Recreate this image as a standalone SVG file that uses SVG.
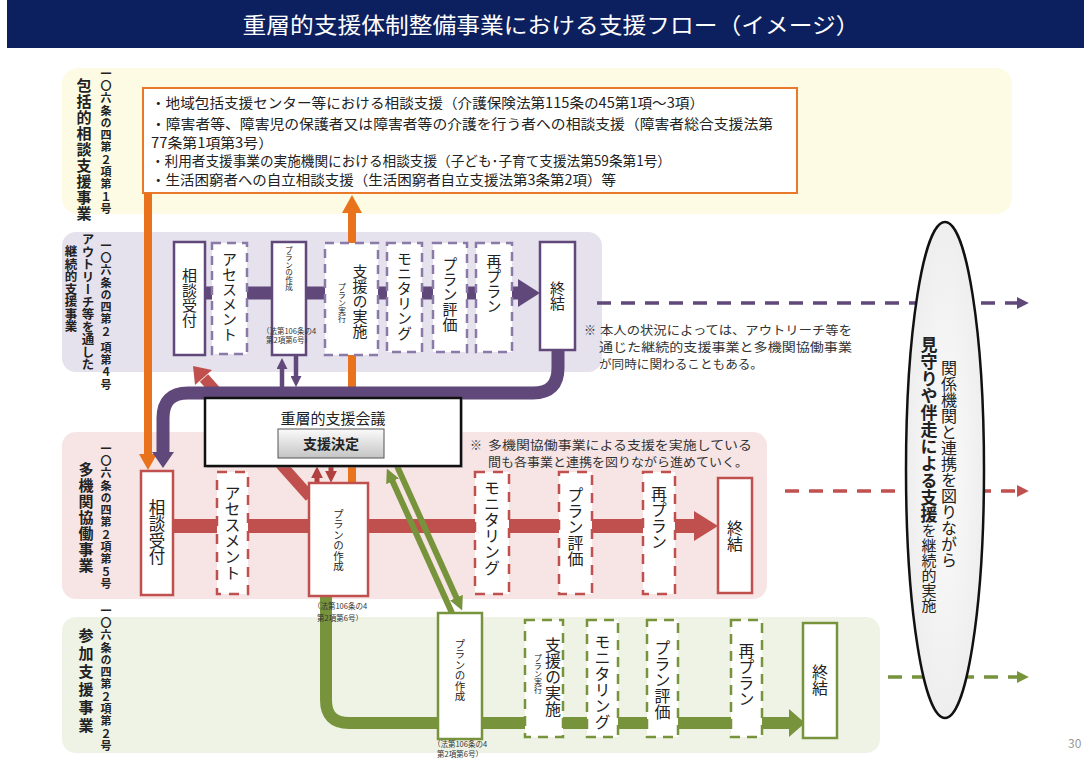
<svg xmlns="http://www.w3.org/2000/svg" width="1084" height="760" viewBox="0 0 1084 760">
<defs>
<style>
text{font-family:"Noto Sans CJK JP","Noto Sans CJK SC",sans-serif;fill:#222}
.v{writing-mode:vertical-rl;text-anchor:middle}
.vs{writing-mode:vertical-rl;text-anchor:start}
.b{font-weight:bold}
.pb{fill:#fff;stroke:#60497a;stroke-width:2.5}
.pd{fill:#fff;stroke:#8a7aa8;stroke-width:2.5;stroke-dasharray:9 6}
.rb{fill:#fff;stroke:#c0504d;stroke-width:2.5}
.rd{fill:#fff;stroke:#c0504d;stroke-width:2.5;stroke-dasharray:10 8}
.gb{fill:#fff;stroke:#77933c;stroke-width:2.5}
.gd{fill:#fff;stroke:#77933c;stroke-width:2.5;stroke-dasharray:10 7}
.sub{font-size:11px;font-weight:bold;letter-spacing:1.3px}
.main{font-size:15px;font-weight:bold;letter-spacing:1px}
.note{font-size:12px;fill:#333}
.law{font-size:7.5px;text-anchor:middle;fill:#333}
</style>
<marker id="mp" viewBox="0 0 10 10" refX="1" refY="5" markerWidth="11" markerHeight="11" markerUnits="userSpaceOnUse" orient="auto"><path d="M0,0 L10,5 L0,10 z" fill="#60497a"/></marker>
<marker id="mr" viewBox="0 0 10 10" refX="1" refY="5" markerWidth="12" markerHeight="12" markerUnits="userSpaceOnUse" orient="auto"><path d="M0,0 L10,5 L0,10 z" fill="#b0413e"/></marker>
<marker id="mg" viewBox="0 0 10 10" refX="1" refY="5" markerWidth="14" markerHeight="14" markerUnits="userSpaceOnUse" orient="auto"><path d="M0,0 L10,5 L0,10 z" fill="#77933c"/></marker>
<marker id="mpd" viewBox="0 0 10 10" refX="1" refY="5" markerWidth="12" markerHeight="12" markerUnits="userSpaceOnUse" orient="auto"><path d="M0,0 L10,5 L0,10 z" fill="#60497a"/></marker>
<marker id="mrd" viewBox="0 0 10 10" refX="1" refY="5" markerWidth="12" markerHeight="12" markerUnits="userSpaceOnUse" orient="auto"><path d="M0,0 L10,5 L0,10 z" fill="#c0504d"/></marker>
<marker id="mgd" viewBox="0 0 10 10" refX="1" refY="5" markerWidth="12" markerHeight="12" markerUnits="userSpaceOnUse" orient="auto"><path d="M0,0 L10,5 L0,10 z" fill="#77933c"/></marker>
<linearGradient id="btn" x1="0" y1="0" x2="0" y2="1"><stop offset="0" stop-color="#fbfbfb"/><stop offset="1" stop-color="#c4c4c4"/></linearGradient>
<radialGradient id="ell" cx="0.5" cy="0.5" r="0.5"><stop offset="0" stop-color="#fbfbfb"/><stop offset="1" stop-color="#eeeeee"/></radialGradient>
</defs>

<rect width="1084" height="760" fill="#fff"/>

<!-- title -->
<g id="title">
<rect x="7" y="0" width="1077" height="48" fill="#0c1f5e"/>
<text x="551" y="33" text-anchor="middle" font-size="22" textLength="617" lengthAdjust="spacingAndGlyphs" style="fill:#fff">重層的支援体制整備事業における支援フロー（イメージ）</text>
</g>

<!-- bands -->
<g id="bands">
<rect x="62" y="68" width="950" height="146" rx="16" fill="#fdfbe3"/>
<rect x="62" y="232" width="540" height="140" rx="14" fill="#e5e1ed"/>
<rect x="62" y="432" width="705" height="167" rx="14" fill="#f7e5e5"/>
<rect x="62" y="617" width="818" height="136" rx="14" fill="#eff3e6"/>
</g>

<!-- left labels -->
<g id="labels">
<text class="vs main" x="84" y="78">包括的相談支援事業</text>
<text class="vs sub" x="106" y="68">一〇六条の四第２項第１号</text>
<text class="vs b" x="88" y="233" font-size="12.5">アウトリーチ等を通した</text>
<text class="vs b" x="71" y="245" font-size="12.5">継続的支援事業</text>
<text class="vs sub" x="106" y="240">一〇六条の四第２ 項第４号</text>
<text class="vs main" x="86" y="462">多機関協働事業</text>
<text class="vs sub" x="106" y="443">一〇六条の四第２項第５号</text>
<text class="vs main" x="86" y="628" style="letter-spacing:3px">参加支援事業</text>
<text class="vs sub" x="106" y="605">一〇六条の四第２項第２号</text>
</g>

<!-- top box -->
<g id="box-hokatsu">
<rect x="143" y="88" width="654" height="105" fill="#fff" stroke="#e8792a" stroke-width="2"/>
<text x="151" y="108" font-size="14" textLength="553" lengthAdjust="spacingAndGlyphs">・地域包括支援センター等における相談支援（介護保険法第115条の45第1項～3項）</text>
<text x="151" y="129" font-size="14" textLength="622" lengthAdjust="spacingAndGlyphs">・障害者等、障害児の保護者又は障害者等の介護を行う者への相談支援（障害者総合支援法第</text>
<text x="151" y="148" font-size="14" textLength="122" lengthAdjust="spacingAndGlyphs">77条第1項第3号）</text>
<text x="151" y="166" font-size="14" textLength="520" lengthAdjust="spacingAndGlyphs">・利用者支援事業の実施機関における相談支援（子ども･子育て支援法第59条第1号）</text>
<text x="151" y="185" font-size="14" textLength="465" lengthAdjust="spacingAndGlyphs">・生活困窮者への自立相談支援（生活困窮者自立支援法第3条第2項）等</text>
</g>

<!-- connectors -->
<g id="connectors" fill="none">
<!-- orange -->
<path d="M148,193 V456" stroke="#e8731c" stroke-width="8"/>
<polygon points="139,454 157,454 148,470" fill="#e8731c"/>
<path d="M352,485 V211" stroke="#e8731c" stroke-width="8"/>
<polygon points="342,213 362,213 352,195" fill="#e8731c"/>
<!-- red diagonal -->
<path d="M310,497 L204,378" stroke="#c0504d" stroke-width="11"/>
<polygon points="212,370 195,385 193,366" fill="#c0504d"/>
<!-- pink thick flow -->
<path d="M173,526 H696" stroke="#c0504d" stroke-width="14"/>
<polygon points="694,511 694,541 718,526" fill="#c0504d"/>
<!-- green flow -->
<path d="M326,596 V700 Q326,723 349,723 H791" stroke="#77933c" stroke-width="12"/>
<polygon points="789,709 789,737 805,723" fill="#77933c"/>
<!-- purple flow -->
<path d="M205,293 H522" stroke="#60497a" stroke-width="13"/>
<polygon points="518,279 518,307 540,293" fill="#60497a"/>
<path d="M558,350 V368 Q558,393 533,393 H188 Q163,393 163,418 V453" stroke="#60497a" stroke-width="13"/>
<polygon points="152,452 174,452 163,468" fill="#60497a"/>
<!-- purple small arrows -->
<path d="M282,388 V368" stroke="#60497a" stroke-width="4.5" marker-end="url(#mp)"/>
<path d="M296,356 V377" stroke="#60497a" stroke-width="4.5" marker-end="url(#mp)"/>
<!-- dark red small arrows -->
<path d="M317,484 V477" stroke="#b0413e" stroke-width="5" marker-end="url(#mr)"/>
<path d="M331,466 V472" stroke="#b0413e" stroke-width="5" marker-end="url(#mr)"/>
<!-- green diagonals -->
<path d="M452,613 L392,480" stroke="#77933c" stroke-width="6" marker-end="url(#mg)"/>
<path d="M397,466 L457,599" stroke="#77933c" stroke-width="6" marker-end="url(#mg)"/>
<!-- dashed continuations -->
<path d="M597,303 H1018" stroke="#60497a" stroke-width="3.5" stroke-dasharray="14 10" marker-end="url(#mpd)"/>
<path d="M785,491 H1018" stroke="#c0504d" stroke-width="3.5" stroke-dasharray="14 10" marker-end="url(#mrd)"/>
<path d="M888,677 H1018" stroke="#77933c" stroke-width="3.5" stroke-dasharray="14 10" marker-end="url(#mgd)"/>
</g>

<!-- purple row -->
<g id="p-uketsuke"><rect class="pb" x="174" y="242" width="31" height="113"/><text class="v" x="189.5" y="298" font-size="15">相談受付</text></g>
<g id="p-assess"><rect class="pd" x="212" y="243" width="35" height="111"/><text class="v" x="229.5" y="297" font-size="15">アセスメント</text></g>
<g id="p-plan"><rect class="pb" x="272" y="242" width="34" height="113"/><text class="vs" x="289" y="246" font-size="7.5">プランの作成</text><text class="law" x="289" y="334" font-size="6.5">（法第106条の4</text><text class="law" x="289" y="343" font-size="6.5">第2項第6号）</text></g>
<g id="p-jisshi"><rect class="pd" x="325" y="243" width="53" height="112"/><text class="v" x="360" y="301" font-size="15">支援の実施</text><text class="vs" x="342" y="283" font-size="8">プラン実行</text></g>
<g id="p-monitor"><rect class="pd" x="387" y="243" width="35" height="109"/><text class="v" x="404.5" y="296" font-size="15">モニタリング</text></g>
<g id="p-hyoka"><rect class="pd" x="433" y="243" width="34" height="109"/><text class="v" x="450" y="294" font-size="15">プラン評価</text></g>
<g id="p-replan"><rect class="pd" x="476" y="243" width="36" height="109"/><text class="v" x="494" y="284" font-size="15">再プラン</text></g>
<g id="p-shuketsu"><rect class="pb" x="540" y="242" width="35" height="108"/><text class="v" x="557.5" y="296" font-size="15">終結</text></g>
<g id="p-note"><text class="note" x="584" y="335">※</text><text class="note" x="600" y="335" textLength="252" lengthAdjust="spacingAndGlyphs">本人の状況によっては、アウトリーチ等を</text><text class="note" x="599" y="352" textLength="253" lengthAdjust="spacingAndGlyphs">通じた継続的支援事業と多機関協働事業</text><text class="note" x="599" y="369" textLength="164" lengthAdjust="spacingAndGlyphs">が同時に関わることもある。</text></g>

<!-- pink row -->
<g id="r-uketsuke"><rect class="rb" x="141" y="471" width="32" height="124"/><text class="v" x="157" y="532" font-size="16.5">相談受付</text></g>
<g id="r-assess"><rect class="rd" x="217" y="472" width="31" height="122"/><text class="v" x="232.5" y="533" font-size="16">アセスメント</text></g>
<g id="r-plan"><rect class="rb" x="309" y="483" width="59" height="113"/><text class="v" x="338.5" y="540" font-size="10.5">プランの作成</text><text class="law" x="340" y="609" font-size="8">（法第106条の4</text><text class="law" x="340" y="621" font-size="8">第2項第6号）</text></g>
<g id="r-monitor"><rect class="rd" x="475" y="472" width="34" height="122"/><text class="v" x="492" y="528" font-size="16">モニタリング</text></g>
<g id="r-hyoka"><rect class="rd" x="559" y="472" width="33" height="122"/><text class="v" x="575.5" y="527" font-size="16">プラン評価</text></g>
<g id="r-replan"><rect class="rd" x="643" y="472" width="32" height="122"/><text class="v" x="659" y="518" font-size="16">再プラン</text></g>
<g id="r-shuketsu"><rect class="rb" x="718" y="478" width="34" height="115"/><text class="v" x="735" y="536" font-size="16">終結</text></g>
<g id="r-note"><text class="note" x="470" y="450">※</text><text class="note" x="488" y="450" textLength="264" lengthAdjust="spacingAndGlyphs">多機関協働事業による支援を実施している</text><text class="note" x="488" y="467" textLength="260" lengthAdjust="spacingAndGlyphs">間も各事業と連携を図りながら進めていく。</text></g>

<!-- green row -->
<g id="g-plan"><rect class="gb" x="438" y="613" width="44" height="126"/><text class="v" x="460" y="670" font-size="10.5">プランの作成</text><text class="law" x="460" y="747" font-size="8">（法第106条の4</text><text class="law" x="460" y="757" font-size="8">第2項第6号）</text></g>
<g id="g-jisshi"><rect class="gd" x="525" y="620" width="38" height="117"/><text class="v" x="553" y="677" font-size="16">支援の実施</text><text class="vs" x="538" y="654" font-size="8">プラン実行</text></g>
<g id="g-monitor"><rect class="gd" x="587" y="620" width="31" height="117"/><text class="v" x="602.5" y="682" font-size="16">モニタリング</text></g>
<g id="g-hyoka"><rect class="gd" x="647" y="620" width="31" height="117"/><text class="v" x="662.5" y="680" font-size="16">プラン評価</text></g>
<g id="g-replan"><rect class="gd" x="731" y="620" width="31" height="117"/><text class="v" x="746.5" y="675" font-size="16">再プラン</text></g>
<g id="g-shuketsu"><rect class="gb" x="803" y="623" width="34" height="115"/><text class="v" x="820" y="680" font-size="16">終結</text></g>

<!-- meeting -->
<g id="meeting">
<rect x="207" y="400" width="256" height="68" fill="#999" opacity="0.4"/>
<rect x="205" y="398" width="256" height="68" fill="#fff" stroke="#111" stroke-width="2.5"/>
<text x="333" y="424" text-anchor="middle" font-size="15">重層的支援会議</text>
<rect x="278" y="429" width="106" height="29" fill="url(#btn)" stroke="#555" stroke-width="1"/>
<text x="331" y="449" text-anchor="middle" font-size="14" class="b">支援決定</text>
</g>

<!-- ellipse -->
<g id="mimamori">
<ellipse cx="945" cy="470" rx="39" ry="248" fill="url(#ell)" stroke="#111" stroke-width="2.5"/>
<text class="vs" x="949" y="360" font-size="16">関係機関と連携を図りながら</text>
<text class="vs" x="929" y="336" font-size="15"><tspan class="b" font-size="17">見守りや伴走による支援</tspan>を継続的実施</text>
</g>

<text x="1068" y="748" font-size="12" style="fill:#999">30</text>
</svg>
